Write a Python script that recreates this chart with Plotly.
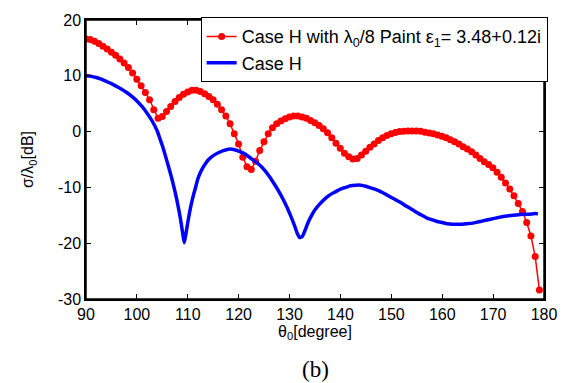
import plotly.graph_objects as go

# Red curve: Case H with lambda0/8 paint (markers + line)
theta_red = [90.00, 90.83, 91.67, 92.50, 93.33, 94.16, 95.00, 95.83, 96.66, 97.49,
             98.33, 99.16, 99.99, 100.83, 101.66, 102.49, 103.32, 104.16, 104.99, 105.82,
             106.65, 107.49, 108.32, 109.15, 109.98, 110.82, 111.65, 112.48, 113.32, 114.15,
             114.98, 115.81, 116.64, 117.48, 118.31, 119.14, 119.98, 120.81, 121.64, 122.48,
             123.31, 124.14, 124.97, 125.81, 126.64, 127.47, 128.30, 129.14, 129.97, 130.80,
             131.64, 132.47, 133.30, 134.13, 134.97, 135.80, 136.63, 137.46, 138.30, 139.13,
             139.96, 140.79, 141.63, 142.46, 143.29, 144.13, 144.96, 145.79, 146.62, 147.46,
             148.29, 149.12, 149.95, 150.79, 151.62, 152.45, 153.29, 154.12, 154.95, 155.78,
             156.62, 157.45, 158.28, 159.11, 159.95, 160.78, 161.61, 162.44, 163.28, 164.11,
             164.94, 165.78, 166.61, 167.44, 168.27, 169.11, 169.94, 170.77, 171.60, 172.44,
             173.27, 174.10, 174.94, 175.77, 176.60, 177.43, 178.27, 179.10]
sigma_red = [16.6, 16.5, 16.2, 15.8, 15.3, 14.8, 14.2, 13.7, 13.0, 12.3,
             11.5, 10.5, 9.4, 8.2, 7.0, 5.7, 3.9, 2.4, 2.7, 3.6,
             4.5, 5.4, 6.1, 6.7, 7.1, 7.4, 7.4, 7.2, 6.8, 6.3,
             5.7, 4.9, 3.9, 2.8, 1.4, -0.4, -2.2, -4.6, -6.3, -6.8,
             -5.3, -3.4, -1.8, -0.4, 0.7, 1.4, 1.9, 2.3, 2.6, 2.8,
             2.8, 2.6, 2.4, 2.0, 1.6, 1.1, 0.5, -0.2, -1.1, -2.1,
             -3.0, -3.9, -4.5, -4.9, -4.8, -4.2, -3.5, -2.8, -2.2, -1.6,
             -1.1, -0.7, -0.4, -0.15, 0.0, 0.05, 0.1, 0.1, 0.1, 0.05,
             -0.1, -0.25, -0.4, -0.6, -0.85, -1.1, -1.45, -1.8, -2.2, -2.7,
             -3.1, -3.6, -4.2, -4.8, -5.4, -5.9, -6.5, -7.3, -8.2, -9.2,
             -10.3, -11.5, -12.9, -14.3, -16.3, -18.7, -22.4, -28.4]

# Blue curve: Case H
theta_blue = [90, 91, 92, 93, 94, 95, 96, 97, 98, 99, 100, 101, 102, 103, 104,
              104.5, 105, 105.5, 106, 106.5, 107, 107.5, 108, 108.5, 109, 109.3,
              109.6, 110, 110.5, 111, 111.5, 112, 112.5, 113, 113.5, 114, 115, 116,
              117, 118, 119, 120, 121, 122, 123, 124, 125, 126, 127, 128, 129, 130,
              131, 131.5, 132, 132.5, 133, 133.5, 134, 135, 136, 137, 138, 139, 140,
              141, 142, 143, 144, 145, 146, 147, 148, 149, 150, 151, 152, 153, 154,
              155, 156, 157, 158, 159, 160, 161, 162, 163, 164, 165, 166, 167, 168,
              169, 170, 171, 172, 173, 174, 175, 176, 177, 178, 178.8]
sigma_blue = [10.0, 9.9, 9.7, 9.4, 9.0, 8.6, 8.1, 7.6, 7.0, 6.3, 5.5, 4.5, 3.3, 1.9, 0.1,
              -1.2, -2.5, -4.0, -5.6, -7.2, -8.9, -10.8, -12.9, -15.3, -18.2, -19.9,
              -18.5, -16.3, -13.8, -11.8, -10.1, -8.4, -7.3, -6.4, -5.7, -5.1, -4.3, -3.8,
              -3.4, -3.15, -3.2, -3.5, -3.9, -4.5, -5.2, -5.9, -6.8, -8.0, -9.4, -10.9, -12.6, -14.6,
              -16.9, -18.2, -19.0, -18.8, -17.8, -16.6, -15.6, -14.0, -12.9, -12.0, -11.3, -10.8, -10.3,
              -10.0, -9.7, -9.6, -9.6, -9.8, -10.1, -10.4, -10.8, -11.3, -11.8, -12.3, -12.8, -13.4, -13.9,
              -14.5, -15.0, -15.5, -15.8, -16.1, -16.3, -16.5, -16.6, -16.6, -16.6, -16.5, -16.4, -16.2, -16.0,
              -15.8, -15.6, -15.4, -15.2, -15.1, -15.0, -14.9, -14.8, -14.8, -14.7, -14.7]

x_ticks = [90, 100, 110, 120, 130, 140, 150, 160, 170, 180]
y_ticks = [-30, -20, -10, 0, 10, 20]

FONT = "Liberation Sans, Arial, sans-serif"

fig = go.Figure()
fig.add_trace(go.Scatter(
    x=theta_red, y=sigma_red, mode="lines+markers",
    name="Case H with λ<sub>0</sub>/8 Paint ε<sub>1</sub>= 3.48+0.12i",
    line=dict(color="#ff0000", width=1.5),
    marker=dict(color="#ff0000", size=7),
))
fig.add_trace(go.Scatter(
    x=theta_blue, y=sigma_blue, mode="lines", name="Case H",
    line=dict(color="#0000ff", width=3.5, shape="spline", smoothing=0.5),
))

axis_common = dict(
    showgrid=False, zeroline=False, showline=True, linecolor="black", linewidth=1.5,
    mirror="allticks", ticks="inside", ticklen=5, tickwidth=1, tickcolor="black",
    tickfont=dict(family=FONT, size=16, color="black"),
)
fig.update_xaxes(range=[90, 180], tickvals=x_ticks, ticktext=[str(v) for v in x_ticks],
                 title=dict(text="θ<sub>0</sub>[degree]", font=dict(family=FONT, size=16, color="black"), standoff=2),
                 **axis_common)
fig.update_yaxes(range=[-30, 20], tickvals=y_ticks, ticktext=[str(v) for v in y_ticks],
                 title=dict(text="σ/λ<sub>0</sub>[dB]", font=dict(family=FONT, size=16, color="black"), standoff=20),
                 **axis_common)

fig.update_layout(
    width=569, height=383,
    margin=dict(l=86, r=19, t=17, b=84),
    paper_bgcolor="white", plot_bgcolor="white",
    font=dict(family=FONT, size=16, color="black"),
    showlegend=True,
    legend=dict(x=1.008, y=1.01, xanchor="right", yanchor="top",
                bgcolor="white", bordercolor="black", borderwidth=1,
                font=dict(family=FONT, size=18, color="black"),
                itemwidth=30, tracegroupgap=0),
    shapes=[dict(type="rect", xref="paper", yref="paper", x0=0, y0=0, x1=1, y1=1,
                 line=dict(color="black", width=1.5), layer="above")],
    annotations=[dict(text="(b)", x=0.5, y=-0.2, xref="paper", yref="paper",
                      xanchor="center", yanchor="top", showarrow=False,
                      font=dict(family="Liberation Serif, Times New Roman, serif", size=23, color="black"))],
)

fig.write_html("out.html")
